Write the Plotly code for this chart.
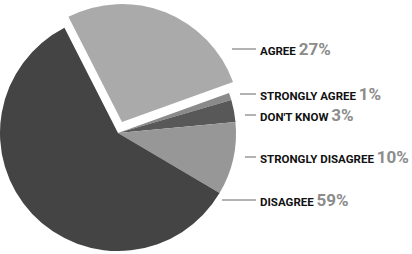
import plotly.graph_objects as go

categories = ["AGREE", "STRONGLY AGREE", "DON'T KNOW", "STRONGLY DISAGREE", "DISAGREE"]
values = [27, 1, 3, 10, 59]
colors = ["#aaaaaa", "#8a8a8a", "#585858", "#979797", "#444444"]
label_y_px = [49, 94, 115, 157, 200]
line_x0_px = [232, 240, 245, 245, 222]

W, H = 412, 254
def px(x): return x / W
def py(y): return 1 - y / H

# main pie (agree slice transparent), center (118,133), r=118
main_colors = ["rgba(0,0,0,0)"] + colors[1:]
cx, cy, r = 118, 133, 118
fig = go.Figure()
fig.add_trace(go.Pie(
    values=values, labels=categories, sort=False, direction="clockwise",
    rotation=-27, textinfo="none", hoverinfo="label+percent",
    marker=dict(colors=main_colors, line=dict(width=0)),
    domain=dict(x=[px(cx - r), px(cx + r)], y=[py(cy + r), py(cy - r)]),
    showlegend=False,
))
# pulled-out agree slice
dx, dy = 4, -11
pull_colors = [colors[0]] + ["rgba(0,0,0,0)"] * 4
fig.add_trace(go.Pie(
    values=values, labels=categories, sort=False, direction="clockwise",
    rotation=-27, textinfo="none", hoverinfo="skip",
    marker=dict(colors=pull_colors, line=dict(width=0)),
    domain=dict(x=[px(cx + dx - r), px(cx + dx + r)], y=[py(cy + dy + r), py(cy + dy - r)]),
    showlegend=False,
))

for cat, v, y, x0 in zip(categories, values, label_y_px, line_x0_px):
    fig.add_shape(type="line", xref="paper", yref="paper",
                  x0=px(x0), x1=px(256), y0=py(y), y1=py(y),
                  line=dict(color="#666666", width=1))
    fig.add_annotation(
        xref="paper", yref="paper", x=px(258), y=py(y), xanchor="left", yanchor="middle",
        showarrow=False,
        text=f"<b>{cat}</b> <span style='font-size:17px;color:#8c8c8c'><b>{v}%</b></span>",
        font=dict(family="Roboto, sans-serif", size=11.5, color="#111111"),
    )

fig.update_layout(width=W, height=H, margin=dict(l=0, r=0, t=0, b=0),
                  paper_bgcolor="white", plot_bgcolor="white")
fig.write_html("out.html")
